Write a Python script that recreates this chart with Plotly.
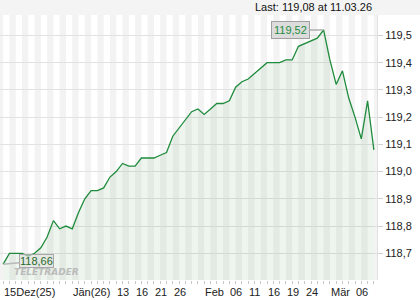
import plotly.graph_objects as go

# ---- data ----
dates = [
    "2025-12-15", "2025-12-16", "2025-12-17", "2025-12-18", "2025-12-19",
    "2025-12-22", "2025-12-23", "2025-12-24", "2025-12-29", "2025-12-30",
    "2025-12-31", "2026-01-02", "2026-01-05", "2026-01-06", "2026-01-07",
    "2026-01-08", "2026-01-09", "2026-01-12", "2026-01-13", "2026-01-14",
    "2026-01-15", "2026-01-16", "2026-01-19", "2026-01-20", "2026-01-21",
    "2026-01-22", "2026-01-23", "2026-01-26", "2026-01-27", "2026-01-28",
    "2026-01-29", "2026-01-30", "2026-02-02", "2026-02-03", "2026-02-04",
    "2026-02-05", "2026-02-06", "2026-02-09", "2026-02-10", "2026-02-11",
    "2026-02-12", "2026-02-13", "2026-02-16", "2026-02-17", "2026-02-18",
    "2026-02-19", "2026-02-20", "2026-02-23", "2026-02-24", "2026-02-25",
    "2026-02-26", "2026-02-27", "2026-03-02", "2026-03-03", "2026-03-04",
    "2026-03-05", "2026-03-06", "2026-03-09", "2026-03-10", "2026-03-11",
]
prices = [
    118.66, 118.70, 118.70, 118.70, 118.69,
    118.70, 118.72, 118.76, 118.82, 118.79,
    118.80, 118.79, 118.85, 118.90, 118.93,
    118.93, 118.94, 118.98, 119.00, 119.03,
    119.02, 119.02, 119.05, 119.05, 119.05,
    119.06, 119.07, 119.13, 119.16, 119.19,
    119.22, 119.23, 119.21, 119.23, 119.25,
    119.25, 119.26, 119.31, 119.33, 119.34,
    119.36, 119.38, 119.40, 119.40, 119.40,
    119.41, 119.41, 119.46, 119.47, 119.48,
    119.49, 119.52, 119.41, 119.32, 119.37,
    119.27, 119.20, 119.12, 119.26, 119.08,
]
label_dates = ["2025-12-15", "2026-01-02", "2026-01-13", "2026-01-16", "2026-01-21",
               "2026-01-26", "2026-02-02", "2026-02-06", "2026-02-11", "2026-02-16",
               "2026-02-19", "2026-02-24", "2026-03-02", "2026-03-06"]
label_texts = ["15Dez(25)", "Jän(26)", "13", "16", "21", "26", "Feb", "06", "11",
               "16", "19", "24", "Mär", "06"]
y_ticks = [118.7, 118.8, 118.9, 119.0, 119.1, 119.2, 119.3, 119.4, 119.5]
last_text = "Last: 119,08 at 11.03.26"
max_text = "119,52"
min_text = "118,66"
watermark = "TELETRADER"

# ---- figure ----
x = list(range(len(dates)))
n = len(dates)
LINE = "#1e8c3c"
FONT = "Liberation Sans, Arial, sans-serif"

fig = go.Figure()
fig.add_trace(go.Scatter(
    x=x, y=prices, mode="lines",
    line=dict(color=LINE, width=1.3),
    fill="tozeroy", fillcolor="rgba(40,120,40,0.08)",
    hoverinfo="skip", showlegend=False,
))

shapes = []
# alternating day stripes
shapes.append(dict(type="rect", xref="x", yref="paper", x0=-0.5, x1=0, y0=0, y1=1,
                   fillcolor="#f3f3f3", line=dict(width=0), layer="below"))
for i in range(1, n, 2):
    shapes.append(dict(type="rect", xref="x", yref="paper", x0=i, x1=min(i + 1, n - 0.5),
                       y0=0, y1=1, fillcolor="#f3f3f3", line=dict(width=0), layer="below"))
# header band
shapes.append(dict(type="rect", xref="paper", yref="paper", x0=0, x1=420 / 377,
                   y0=1, y1=1 + 15 / 265, fillcolor="#f4f4f4", line=dict(width=0), layer="below"))

annotations = []
for d, t in zip(label_dates, label_texts):
    annotations.append(dict(x=dates.index(d), y=0, xref="x", yref="paper", text=t,
                            showarrow=False, xanchor="left", yanchor="middle", yshift=-12,
                            xshift=-1, font=dict(family=FONT, size=11, color="#222")))
annotations.append(dict(x=374 / 377, y=1 + 8 / 265, xref="paper", yref="paper", text=last_text,
                        showarrow=False, xanchor="right", yanchor="middle",
                        font=dict(family=FONT, size=11, color="#111")))
# watermark (drawn first among the boxes so the value box sits on top)
annotations.append(dict(x=12 / 377, y=0, xref="paper", yref="paper",
                        text="<b><i>" + watermark + "</i></b>",
                        showarrow=False, xanchor="left", yanchor="bottom", yshift=1,
                        font=dict(family="DejaVu Sans", size=9, color="rgba(165,165,165,0.7)")))
imax = prices.index(max(prices))
annotations.append(dict(x=imax, y=prices[imax], xref="x", yref="y", text=max_text,
                        showarrow=True, arrowhead=0, arrowwidth=1.5, arrowcolor="#b0b0b0",
                        ax=-33, ay=0, bgcolor="#dcdcdc", bordercolor="#a0a0a0", borderwidth=1,
                        borderpad=2, font=dict(family=FONT, size=11, color=LINE)))
imin = prices.index(min(prices))
annotations.append(dict(x=imin, y=prices[imin], xref="x", yref="y", text=min_text,
                        showarrow=True, arrowhead=0, arrowwidth=1.5, arrowcolor="#b8b8b8",
                        ax=33, ay=-3, bgcolor="rgba(225,225,225,0.55)", bordercolor="#a8a8a8",
                        borderwidth=1, borderpad=0, font=dict(family=FONT, size=11, color="#2a6a2a")))

fig.update_layout(
    width=420, height=300,
    margin=dict(l=0, r=43, t=15, b=20),
    paper_bgcolor="white", plot_bgcolor="white",
    separators=",.",
    font=dict(family=FONT, size=11, color="#222"),
    shapes=shapes, annotations=annotations,
    xaxis=dict(range=[-0.5, n - 0.5], showgrid=False, zeroline=False,
               tickmode="array", tickvals=x, showticklabels=False,
               ticks="outside", ticklen=3, tickcolor="#c8c8c8", tickwidth=1,
               showline=False, fixedrange=True),
    yaxis=dict(range=[118.602, 119.575], side="right", tickmode="array", tickvals=y_ticks,
               tickformat=".1f", showgrid=True, gridcolor="#e2e2e2", gridwidth=1,
               zeroline=False, ticks="outside", ticklen=5, tickcolor="#d0d0d0",
               showline=True, linecolor="#e0e0e0", linewidth=1,
               tickfont=dict(family=FONT, size=11, color="#222"), fixedrange=True),
)

fig.write_html("out.html")
